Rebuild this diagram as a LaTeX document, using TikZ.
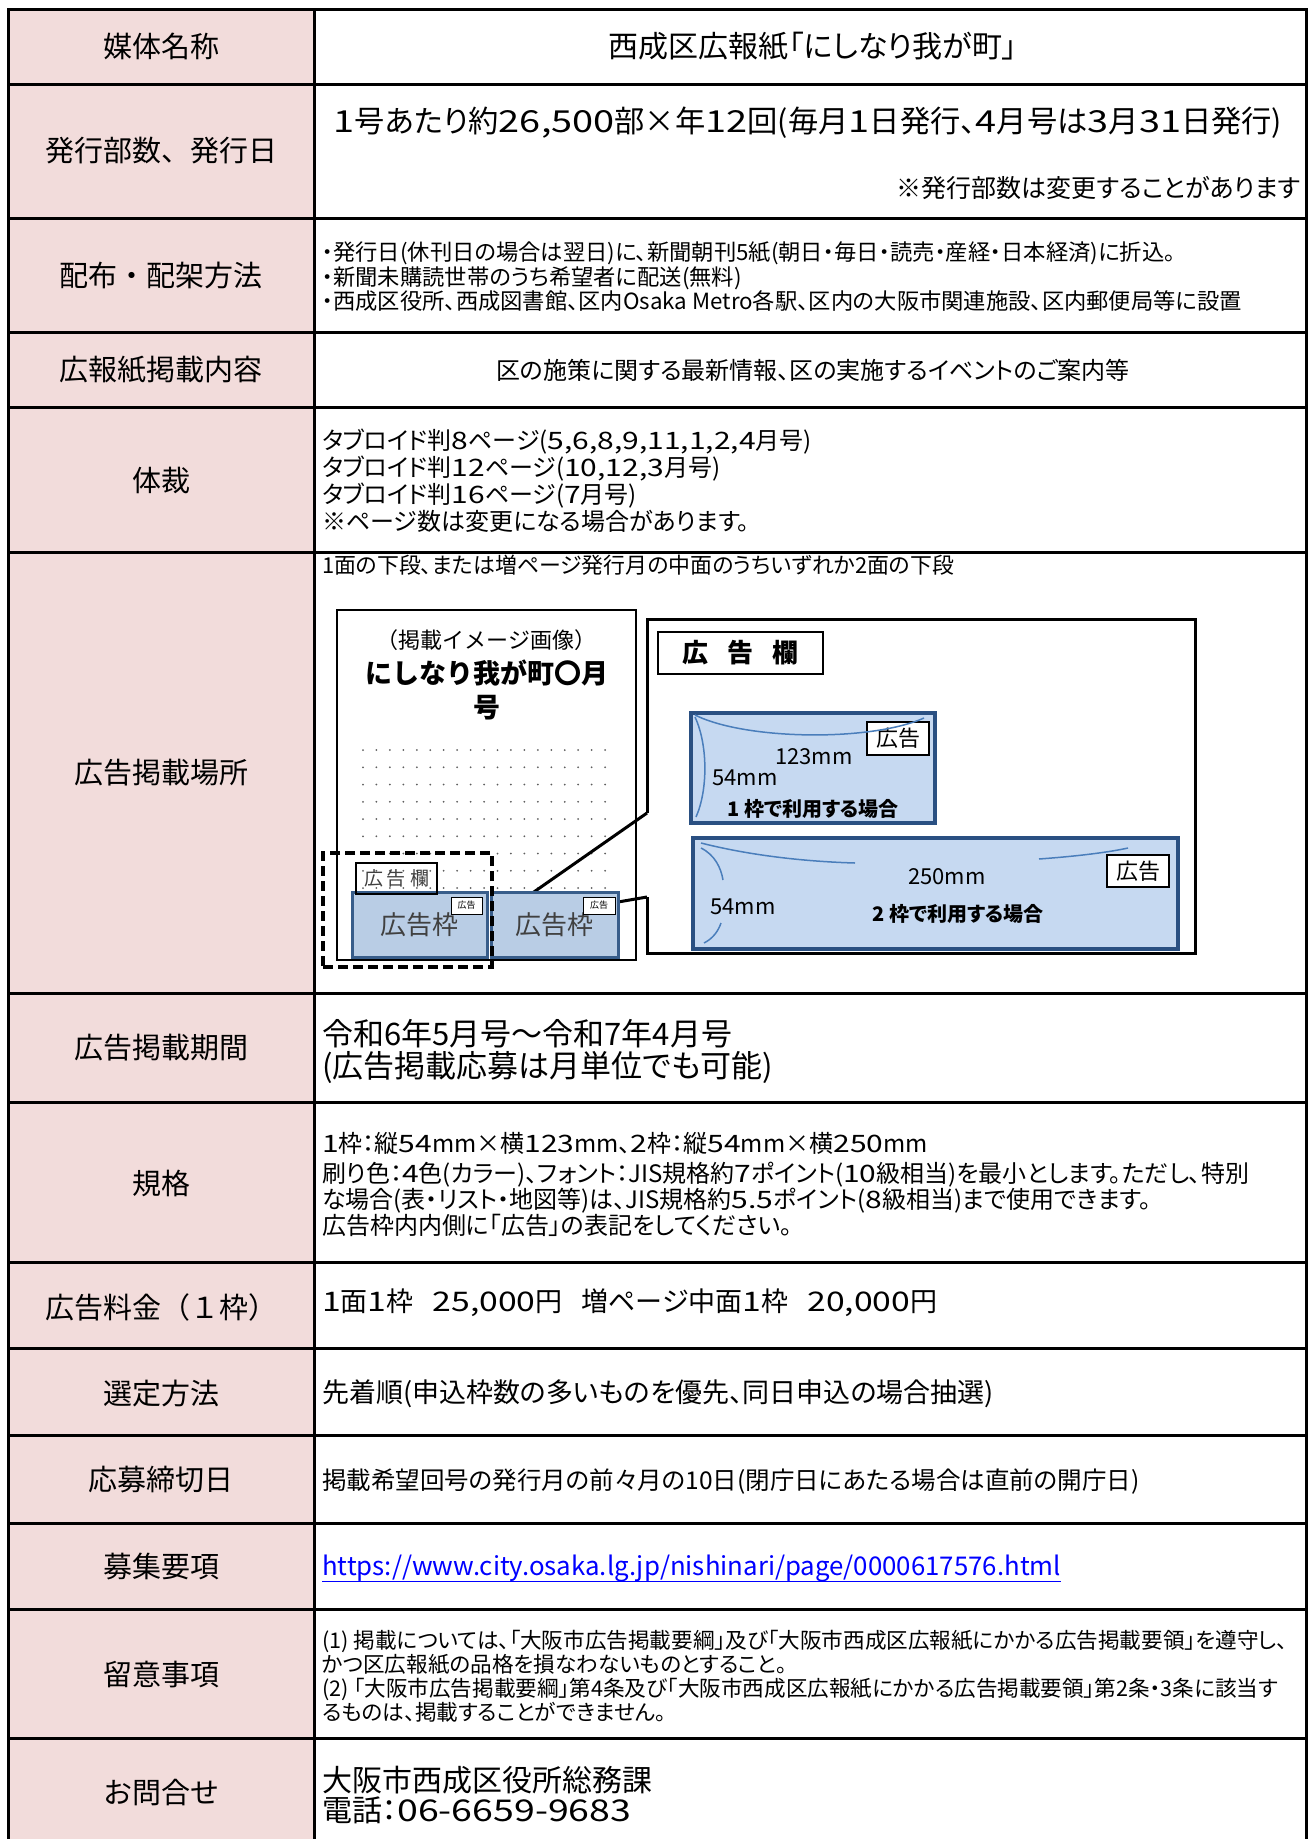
\documentclass[tikz,border=0pt]{standalone}
\usepackage{fontspec}
\setmainfont{Noto Sans CJK JP}
\newfontfamily\pfont{Noto Sans CJK JP}[RawFeature=+palt]
\newfontfamily\numfont{Noto Sans CJK JP}[FakeStretch=1.25]
\usepackage{xcolor}
\definecolor{headpink}{HTML}{F2DCDB}
\definecolor{frameblue}{HTML}{B9CDE5}
\definecolor{frameedge}{HTML}{385D8A}
\definecolor{sizeblue}{HTML}{C6D9F1}
\definecolor{sizeedge}{HTML}{2A5082}
\definecolor{arcblue}{HTML}{4A7EBB}
\definecolor{dotgray}{HTML}{5F5F5F}
\definecolor{urlblue}{HTML}{0000FF}
\definecolor{inkgray}{HTML}{404040}
\newcommand{\fs}[2]{\fontsize{#1}{#2}\selectfont}
\newcommand{\nm}[1]{{\numfont #1}}

\tikzset{
  rule/.style={line width=3, line cap=rect},
  head/.style={inner sep=0, font=\fs{29}{29}},
  body/.style={anchor=west, align=left, inner sep=0},
  pagebox/.style={draw, line width=2.5, inner sep=0},
  frame/.style={draw=frameedge, fill=frameblue, line width=3, inner sep=0, text=inkgray, font=\fs{26}{26}},
  tinytag/.style={draw, fill=white, line width=0.8, inner sep=0, font=\fs{9}{9}},
  dashbox/.style={draw, line width=3.5, dash pattern=on 10 off 5, inner sep=0},
  sizebox/.style={draw=sizeedge, fill=sizeblue, line width=4, inner sep=0},
  tagbox/.style={draw, fill=white, line width=1.5, inner sep=0, font=\pfont\fs{22}{22}},
  dim/.style={inner sep=0, font=\pfont\fs{22}{22}},
  note/.style={inner sep=0, font=\pfont\bfseries\fs{20}{20}},
  arc/.style={draw=arcblue, line width=1.5},
  calloutline/.style={line width=3, line join=miter}
}

\begin{document}
\begin{tikzpicture}[x=1pt, y=-1pt]
\useasboundingbox (0,0) rectangle (1309,1839);

% table
\fill[headpink] (8,9) rectangle (314,1839);
\foreach \y in {9,84,218,332,407,552,993,1102,1262,1348,1435,1523,1609,1738}
  \draw[rule] (8,\y) -- (1306,\y);
\foreach \x in {8,314,1306}
  \draw[rule] (\x,9) -- (\x,1845);

\node[head] (h1) at (161,46) {媒体名称};
\node[head] (h2) at (161,151) {発行部数、発行日};
\node[head] (h3) at (161,275) {配布・配架方法};
\node[head] (h4) at (161,370) {広報紙掲載内容};
\node[head] (h5) at (161,480) {体裁};
\node[head] (h6) at (161,773) {広告掲載場所};
\node[head] (h7) at (161,1048) {広告掲載期間};
\node[head] (h8) at (161,1183) {規格};
\node[head] (h9) at (161,1307) {広告料金（１枠）};
\node[head] (h10) at (161,1393) {選定方法};
\node[head] (h11) at (161,1480) {応募締切日};
\node[head] (h12) at (161,1567) {募集要項};
\node[head] (h13) at (161,1675) {留意事項};
\node[head] (h14) at (161,1793) {お問合せ};

\node[inner sep=0, font=\pfont\fs{30}{30}] (v1) at (813,46) {西成区広報紙「にしなり我が町」};
\node[inner sep=0, font=\pfont\fs{30.3}{30.3}] (v2) at (808,123) {\nm{1}号あたり約\nm{26,500}部×年\nm{12}回(毎月\nm{1}日発行、\nm{4}月号は\nm{3}月\nm{31}日発行)};
\node[inner sep=0, anchor=east, font=\pfont\fs{25}{25}] (v2b) at (1301,188) {※発行部数は変更することがあります};
\node[body, font=\pfont\fs{22.3}{24.5}] (v3) at (322,277) {・発行日(休刊日の場合は翌日)に、新聞朝刊5紙(朝日・毎日・読売・産経・日本経済)に折込。\\
・新聞未購読世帯のうち希望者に配送(無料)\\
・西成区役所、西成図書館、区内Osaka Metro各駅、区内の大阪市関連施設、区内郵便局等に設置};
\node[inner sep=0, font=\pfont\fs{24}{24}] (v4) at (813,370) {区の施策に関する最新情報、区の実施するイベントのご案内等};
\node[body, font=\pfont\fs{24}{27}] (v5) at (322,481) {タブロイド判\nm{8}ページ(\nm{5,6,8,9,11,1,2,4}月号)\\
タブロイド判\nm{12}ページ(\nm{10,12,3}月号)\\
タブロイド判\nm{16}ページ(\nm{7}月号)\\
※ページ数は変更になる場合があります。};
\node[body, font=\pfont\fs{21.9}{21.9}] (v6) at (322,565) {1面の下段、または増ページ発行月の中面のうちいずれか2面の下段};
\node[body, font=\pfont\fs{31}{32}] (v7) at (322,1051) {令和6年5月号～令和7年4月号\\
(広告掲載応募は月単位でも可能)};
\node[body, font=\pfont\fs{24}{26}] (v8) at (322,1184) {\nm{1}枠：縦\nm{54}mm×横\nm{123}mm、\nm{2}枠：縦\nm{54}mm×横\nm{250}mm\\[4pt]
刷り色：\nm{4}色(カラー)、フォント：JIS規格約\nm{7}ポイント(\nm{10}級相当)を最小とします。ただし、特別\\
な場合(表・リスト・地図等)は、JIS規格約\nm{5.5}ポイント(\nm{8}級相当)まで使用できます。\\
広告枠内内側に「広告」の表記をしてください。};
\node[body, font=\pfont\fs{27}{27}] (v9) at (322,1303) {\nm{1}面\nm{1}枠\hspace{19pt}\nm{25,000}円\hspace{19pt}増ページ中面\nm{1}枠\hspace{19pt}\nm{20,000}円};
\node[body, font=\pfont\fs{27}{27}] (v10) at (322,1394) {先着順(申込枠数の多いものを優先、同日申込の場合抽選)};
\node[body, font=\pfont\fs{24.5}{24.5}] (v11) at (322,1482) {掲載希望回号の発行月の前々月の10日(閉庁日にあたる場合は直前の開庁日)};
\node[body, text=urlblue, font=\pfont\fs{25.8}{25.8}] (v12) at (322,1568) {https://www.city.osaka.lg.jp/nishinari/page/0000617576.html};
\draw[urlblue, line width=1.5] (v12.south west) -- (v12.south east);
\node[body, font=\pfont\fs{21.6}{24}] (v13) at (322,1676) {(1) 掲載については、「大阪市広告掲載要綱」及び「大阪市西成区広報紙にかかる広告掲載要領」を遵守し、\\
かつ区広報紙の品格を損なわないものとすること。\\
(2) 「大阪市広告掲載要綱」第4条及び「大阪市西成区広報紙にかかる広告掲載要領」第2条・3条に該当す\\
るものは、掲載することができません。};
\node[body, font=\pfont\fs{30}{30}] (v14) at (322,1795) {大阪市西成区役所総務課\\
電話：\nm{06-6659-9683}};

% page image
\node[pagebox, minimum width=299, minimum height=350] (page) at (486.5,785) {};
\node[inner sep=0, font=\fs{22}{22}] (cap) at (486.5,640) {（掲載イメージ画像）};
\node[inner sep=0, align=center, font=\bfseries\fs{27}{34}] (title) at (486.5,690) {にしなり我が町〇月\\号};
\foreach \i in {0,...,18}
  \foreach \j in {0,...,8}
    \fill[dotgray] (363+13.45*\i,750+17.25*\j) circle (1);

% callout
\coordinate (ca) at (647,813);
\coordinate (cb) at (647,897);
\coordinate (tipa) at (531,894);
\coordinate (tipb) at (618,902);
\draw[calloutline] (ca) -- (647,619) -- (1195,619) -- (1195,953) -- (647,953) -- (cb);
\draw[calloutline] (ca) -- (tipa);
\draw[calloutline] (cb) -- (tipb);

\node[frame, minimum width=135, minimum height=65] (fl) at (419.5,924.5) {広告枠};
\node[frame, minimum width=127, minimum height=65] (fr) at (554.5,924.5) {広告枠};
\node[tinytag, minimum width=31, minimum height=17] (tl) at (466.5,905.5) {広告};
\node[tinytag, minimum width=32, minimum height=17] (tr) at (599,905.5) {広告};
\node[draw, line width=1.5, inner sep=0, text=inkgray, font=\fs{19}{19}, minimum width=81, minimum height=31] (lbl) at (396.5,878.5) {広\hspace{4pt}告\hspace{4pt}欄};
\node[dashbox, minimum width=169, minimum height=114] (zone) at (407.5,910) {};

% ad sizes
\node[draw, line width=2.5, inner sep=0, font=\bfseries\fs{26}{26}, minimum width=165, minimum height=42] (bl) at (740.5,653) {広\hspace{19pt}告\hspace{19pt}欄};

\node[sizebox, minimum width=244, minimum height=110] (s1) at (813,768) {};
\node[tagbox, minimum width=62, minimum height=33] (t1) at (898,738.5) {広告};
\node[dim] (w1) at (814,757) {123mm};
\node[dim] (d1) at (745,778) {54mm};
\node[note] (n1) at (813,809) {1 枠で利用する場合};
\draw[arc] (695,715) .. controls (745,740) and (870,742) .. (924,718);
\draw[arc] (695,717) .. controls (708,745) and (708,790) .. (696,817);

\node[sizebox, minimum width=485, minimum height=111] (s2) at (935.5,893.5) {};
\node[tagbox, minimum width=62, minimum height=32] (t2) at (1138,871) {広告};
\node[dim] (w2) at (947,877) {250mm};
\node[dim] (d2) at (743,907) {54mm};
\node[note] (n2) at (958,914) {2 枠で利用する場合};
\draw[arc] (701,843) .. controls (760,858) and (820,862) .. (855,863);
\draw[arc] (1039,859) .. controls (1080,856) and (1110,852) .. (1128,848);
\draw[arc] (701,848) .. controls (715,855) and (721,868) .. (723,880);
\draw[arc] (721,923) .. controls (718,932) and (712,939) .. (704,943);
\end{tikzpicture}
\end{document}
